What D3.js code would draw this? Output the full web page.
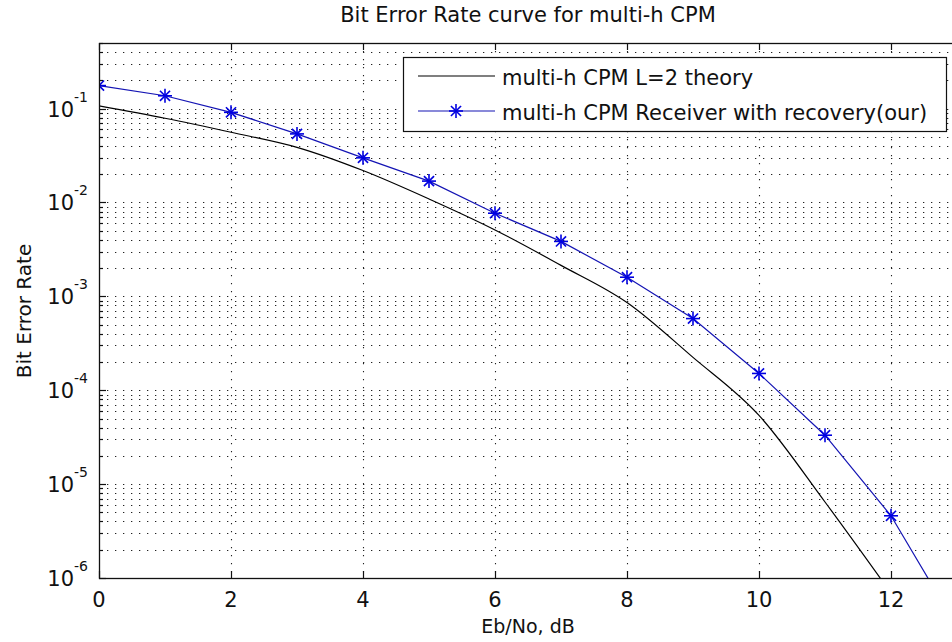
<!DOCTYPE html>
<html lang="en">
  <head>
    <meta charset="utf-8">
    <title>Bit Error Rate curve for multi-h CPM</title>
    <script src="https://d3js.org/d3.v7.js"></script>
    <style>
      body { margin: 0; background: white; }
      text { font-family: "DejaVu Sans", sans-serif; fill: #111; }
    </style>
  </head>
  <body>
    <script>
    // Eb/No values (dB)
    const ebno = [0, 1, 2, 3, 4, 5, 6, 7, 8, 9, 10, 11, 12, 13];
    // theory curve, multi-h CPM L=2
    const theory = [0.107, 0.079, 0.056, 0.0387, 0.0219, 0.0109, 0.0051, 0.00214,
                    8.6e-4, 2.24e-4, 5.4e-5, 6.45e-6, 6.9e-7, null];
    // receiver with recovery
    const receiver = [0.176, 0.137, 0.0913, 0.0538, 0.0299, 0.0169, 0.00769, 0.00385,
                      0.0016, 5.8e-4, 1.51e-4, 3.32e-5, 4.6e-6, 3.0e-7];
    const xTicks = [0, 2, 4, 6, 8, 10, 12];
    const yDecades = [-6, -5, -4, -3, -2, -1];
    const seriesNames = ["multi-h CPM L=2 theory", "multi-h CPM Receiver with recovery(our)"];

    const w = 952, h = 642;
    const mLeft = 99, mRight = 957, mTop = 43, mBottom = 578;

    const x = d3.scaleLinear().domain([0, 13]).range([mLeft, mRight]);
    const y = d3.scaleLog().domain([1e-6, 0.5]).range([mBottom, mTop]);

    const svg = d3.select("body").append("svg")
      .attr("width", w)
      .attr("height", h);

    svg.append("rect").attr("width", w).attr("height", h).attr("fill", "white");

    svg.append("defs").append("clipPath").attr("id", "plotclip")
      .append("rect")
      .attr("x", mLeft).attr("y", mTop)
      .attr("width", mRight - mLeft).attr("height", mBottom - mTop);

    // grid lines (major + minor on the log axis)
    const yGrid = [];
    yDecades.forEach(k => {
      for (let m = 1; m <= 9; m++) {
        const v = m * Math.pow(10, k);
        if (v <= 0.5 + 1e-12) yGrid.push({v: v, major: m === 1});
      }
    });

    const grid = svg.append("g").attr("clip-path", "url(#plotclip)");
    grid.selectAll("line.hg")
      .data(yGrid.filter(d => d.v > 1e-6))
      .enter().append("line")
      .attr("class", "hg")
      .attr("x1", mLeft).attr("x2", mRight)
      .attr("y1", d => Math.round(y(d.v)) + 0.5)
      .attr("y2", d => Math.round(y(d.v)) + 0.5)
      .attr("stroke", "#222")
      .attr("stroke-width", 1.1)
      .attr("stroke-dasharray", "1.3,6.7");

    grid.selectAll("line.vg")
      .data(xTicks.filter(d => d > 0))
      .enter().append("line")
      .attr("class", "vg")
      .attr("x1", d => Math.round(x(d)) + 0.5)
      .attr("x2", d => Math.round(x(d)) + 0.5)
      .attr("y1", mTop).attr("y2", mBottom)
      .attr("stroke", "#222")
      .attr("stroke-width", 1.1)
      .attr("stroke-dasharray", "1.3,6.7");

    // curves
    const plot = svg.append("g").attr("clip-path", "url(#plotclip)");

    const theoryData = ebno.map((e, i) => ({e: e, v: theory[i]})).filter(d => d.v != null);
    const recvData = ebno.map((e, i) => ({e: e, v: receiver[i]}));

    plot.append("path")
      .datum(theoryData)
      .attr("fill", "none")
      .attr("stroke", "black")
      .attr("stroke-width", 1.2)
      .attr("d", d3.line().x(d => x(d.e)).y(d => y(d.v)).curve(d3.curveMonotoneX));

    plot.append("path")
      .datum(recvData)
      .attr("fill", "none")
      .attr("stroke", "#1414b4")
      .attr("stroke-width", 1.2)
      .attr("d", d3.line().x(d => x(d.e)).y(d => y(d.v)));

    function star(g, cx, cy, r) {
      const s = g.append("g").attr("transform", `translate(${cx},${cy})`)
        .attr("stroke", "#0000e0").attr("stroke-width", 1.6);
      s.append("line").attr("x1", -r).attr("x2", r).attr("y1", 0).attr("y2", 0);
      s.append("line").attr("x1", 0).attr("x2", 0).attr("y1", -r).attr("y2", r);
      const q = r * 0.72;
      s.append("line").attr("x1", -q).attr("x2", q).attr("y1", -q).attr("y2", q);
      s.append("line").attr("x1", -q).attr("x2", q).attr("y1", q).attr("y2", -q);
    }
    recvData.forEach(d => star(plot, x(d.e), y(d.v), 7));

    // axes box
    svg.append("rect")
      .attr("x", mLeft + 0.5).attr("y", mTop + 0.5)
      .attr("width", mRight - mLeft).attr("height", mBottom - mTop)
      .attr("fill", "none").attr("stroke", "#111").attr("stroke-width", 1.3);

    // ticks (inward)
    const ticks = svg.append("g").attr("stroke", "#111").attr("stroke-width", 1.2);
    xTicks.forEach(t => {
      const px = Math.round(x(t)) + 0.5;
      ticks.append("line").attr("x1", px).attr("x2", px).attr("y1", mBottom).attr("y2", mBottom - 7);
      ticks.append("line").attr("x1", px).attr("x2", px).attr("y1", mTop).attr("y2", mTop + 7);
    });
    yGrid.forEach(d => {
      const py = Math.round(y(d.v)) + 0.5;
      ticks.append("line").attr("x1", mLeft).attr("x2", mLeft + (d.major ? 7 : 4))
        .attr("y1", py).attr("y2", py);
    });

    // tick labels
    svg.selectAll("text.xt")
      .data(xTicks)
      .enter().append("text")
      .attr("class", "xt")
      .attr("x", d => x(d))
      .attr("y", 607)
      .attr("text-anchor", "middle")
      .attr("font-size", 21)
      .text(d => d);

    const yt = svg.selectAll("text.yt")
      .data(yDecades)
      .enter().append("text")
      .attr("class", "yt")
      .attr("x", 88)
      .attr("y", d => y(Math.pow(10, d)) + 8)
      .attr("text-anchor", "end")
      .attr("font-size", 21);
    yt.append("tspan").text("10");
    yt.append("tspan").attr("font-size", 14).attr("dy", -15).text(d => d);

    // title and axis labels
    svg.append("text")
      .attr("x", (mLeft + mRight) / 2).attr("y", 22)
      .attr("text-anchor", "middle").attr("font-size", 21)
      .text("Bit Error Rate curve for multi-h CPM");

    svg.append("text")
      .attr("x", (mLeft + mRight) / 2).attr("y", 633)
      .attr("text-anchor", "middle").attr("font-size", 19)
      .text("Eb/No, dB");

    svg.append("text")
      .attr("transform", "translate(31,311) rotate(-90)")
      .attr("text-anchor", "middle").attr("font-size", 20)
      .text("Bit Error Rate");

    // legend
    const lg = svg.append("g");
    lg.append("rect")
      .attr("x", 403.5).attr("y", 57.5).attr("width", 543).attr("height", 74)
      .attr("fill", "white").attr("stroke", "#111").attr("stroke-width", 1.2);
    const rowsY = [76, 111];
    lg.append("line").attr("x1", 418).attr("x2", 495).attr("y1", rowsY[0]).attr("y2", rowsY[0])
      .attr("stroke", "black").attr("stroke-width", 1.2);
    lg.append("line").attr("x1", 418).attr("x2", 495).attr("y1", rowsY[1]).attr("y2", rowsY[1])
      .attr("stroke", "#1414b4").attr("stroke-width", 1.2);
    star(lg, 456, rowsY[1], 7);
    lg.selectAll("text.lt")
      .data(seriesNames)
      .enter().append("text")
      .attr("class", "lt")
      .attr("x", 502)
      .attr("y", (d, i) => rowsY[i] + 9)
      .attr("font-size", 21)
      .text(d => d);
    </script>
  </body>
</html>
